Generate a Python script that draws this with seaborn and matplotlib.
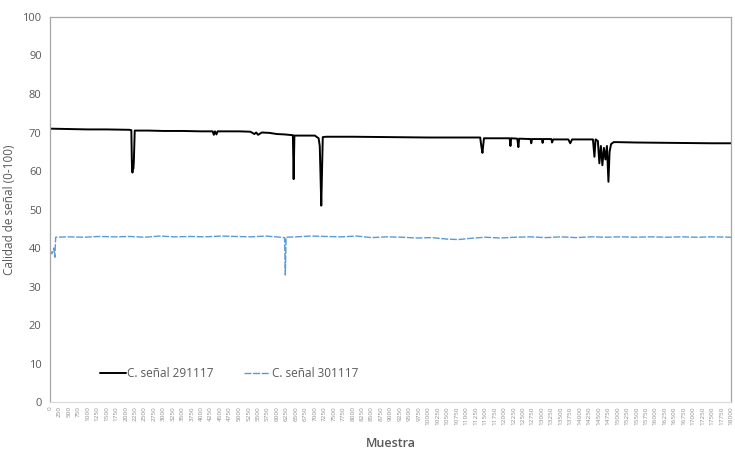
import numpy as np
import pandas as pd
import matplotlib
matplotlib.use("Agg")
import matplotlib.pyplot as plt
import seaborn as sns

# Werte (Muestra, Calidad)
muestra_291117 = [0, 500, 1000, 1500, 2100, 2150, 2165, 2180, 2190, 2200, 2215, 2240,
                  2600, 3000, 3500, 4000, 4300, 4330, 4360, 4400, 4430, 5000, 5300,
                  5400, 5450, 5500, 5600, 5800, 6000, 6200, 6420, 6440, 6460, 6700,
                  7000, 7100, 7130, 7150, 7170, 7190, 7210, 7300, 8000, 9000, 10000,
                  11000, 11370, 11400, 11430, 11470, 11600, 12150, 12170, 12190, 12350,
                  12380, 12400, 12700, 12720, 12740, 13000, 13020, 13040, 13250, 13270,
                  13300, 13700, 13750, 13800, 14350, 14390, 14420, 14480, 14520, 14560,
                  14600, 14640, 14680, 14720, 14760, 14790, 14830, 14900, 15000, 15500,
                  16500, 17500, 18000]
calidad_291117 = [71.0, 70.9, 70.8, 70.8, 70.7, 70.6, 62.0, 59.6, 62.5, 60.5, 62.0, 70.5,
                  70.5, 70.4, 70.4, 70.3, 70.3, 69.4, 70.3, 69.5, 70.3, 70.3, 70.2,
                  69.6, 70.0, 69.4, 70.0, 69.9, 69.6, 69.5, 69.3, 57.9, 69.2, 69.2,
                  69.2, 68.5, 66.5, 59.0, 51.0, 60.0, 68.8, 68.9, 68.9, 68.8, 68.7,
                  68.7, 68.7, 66.5, 64.7, 68.5, 68.5, 68.5, 66.5, 68.5, 68.4,
                  66.2, 68.4, 68.3, 67.2, 68.3, 68.3, 67.3, 68.3, 68.3, 67.4,
                  68.2, 68.2, 67.2, 68.2, 68.2, 63.7, 68.2, 67.8, 62.0, 66.5,
                  61.5, 66.0, 63.0, 66.5, 57.2, 65.0, 67.0, 67.5, 67.5, 67.4,
                  67.3, 67.2, 67.2]

muestra_301117 = [0, 50, 100, 130, 150, 500, 900, 1300, 1700, 2100, 2500, 2900, 3300,
                  3700, 4100, 4500, 4900, 5300, 5700, 6100, 6200, 6220, 6240, 6500,
                  6900, 7300, 7700, 8100, 8500, 8900, 9300, 9700, 10100, 10500, 10800,
                  11100, 11500, 11900, 12300, 12700, 13100, 13500, 13900, 14300, 14700,
                  15100, 15500, 15900, 16300, 16700, 17100, 17500, 18000]
calidad_301117 = [39.5, 38.5, 40.0, 37.6, 42.8, 42.9, 42.8, 43.0, 42.9, 43.0, 42.8, 43.1, 42.9,
                  43.0, 42.9, 43.1, 43.0, 42.9, 43.1, 42.8, 42.7, 33.0, 42.8, 42.9,
                  43.1, 43.0, 42.9, 43.1, 42.7, 42.9, 42.8, 42.6, 42.7, 42.3, 42.2,
                  42.5, 42.8, 42.6, 42.8, 42.9, 42.7, 42.9, 42.7, 42.9, 42.8,
                  42.9, 42.8, 42.9, 42.8, 42.9, 42.8, 42.9, 42.8]

x_ticks = list(range(0, 18001, 250))
y_ticks = list(range(0, 101, 10))

grau = "#595959"

fig = plt.figure(figsize=(7.35, 4.63), dpi=100)
ax = fig.add_axes([0.068, 0.1317, 0.9266, 0.8316])
sns.set_style("white")
plt.rcParams["font.family"] = ["Open Sans", "DejaVu Sans"]

sns.lineplot(x=muestra_291117, y=calidad_291117, ax=ax, color="black", linewidth=1.4,
             estimator=None, label="C. señal 291117")
sns.lineplot(x=muestra_301117, y=calidad_301117, ax=ax, color="#5B9BD5", linewidth=1.0,
             estimator=None, linestyle=(0, (5, 1.2)), label="C. señal 301117")

ax.set_xlim(0, 18000)
ax.set_ylim(0, 100)
ax.set_yticks(y_ticks)
ax.set_yticklabels([str(v) for v in y_ticks], fontsize=8, color=grau, family="Open Sans")
ax.set_xticks(x_ticks)
ax.set_xticklabels([str(v) for v in x_ticks], rotation=90, fontsize=4.6, color="#8c8c8c",
                   family="Open Sans")
ax.set_xticks(list(range(0, 18001, 1000)), minor=True)
ax.tick_params(axis="x", which="major", length=0, pad=3)
ax.tick_params(axis="x", which="minor", length=3, color="#d9d9d9", direction="out")
ax.tick_params(axis="y", length=0, pad=6)

for side in ["top", "right", "left"]:
    ax.spines[side].set_color("#a6a6a6")
    ax.spines[side].set_linewidth(0.9)
ax.spines["bottom"].set_color("#d9d9d9")

ax.set_xlabel("Muestra", fontsize=9, color=grau, fontweight="semibold", labelpad=9,
              family="Open Sans")
ax.set_ylabel("Calidad de señal (0-100)", fontsize=8.5, color=grau, labelpad=5,
              family="Open Sans")

leg = ax.legend(loc="center left", bbox_to_anchor=(0.058, 0.075), ncol=2, frameon=False,
                handlelength=2.2, handletextpad=0.1, columnspacing=2.6,
                prop={"family": "Open Sans", "size": 8.5})
for t in leg.get_texts():
    t.set_color(grau)

fig.savefig("out.png", dpi=100)
